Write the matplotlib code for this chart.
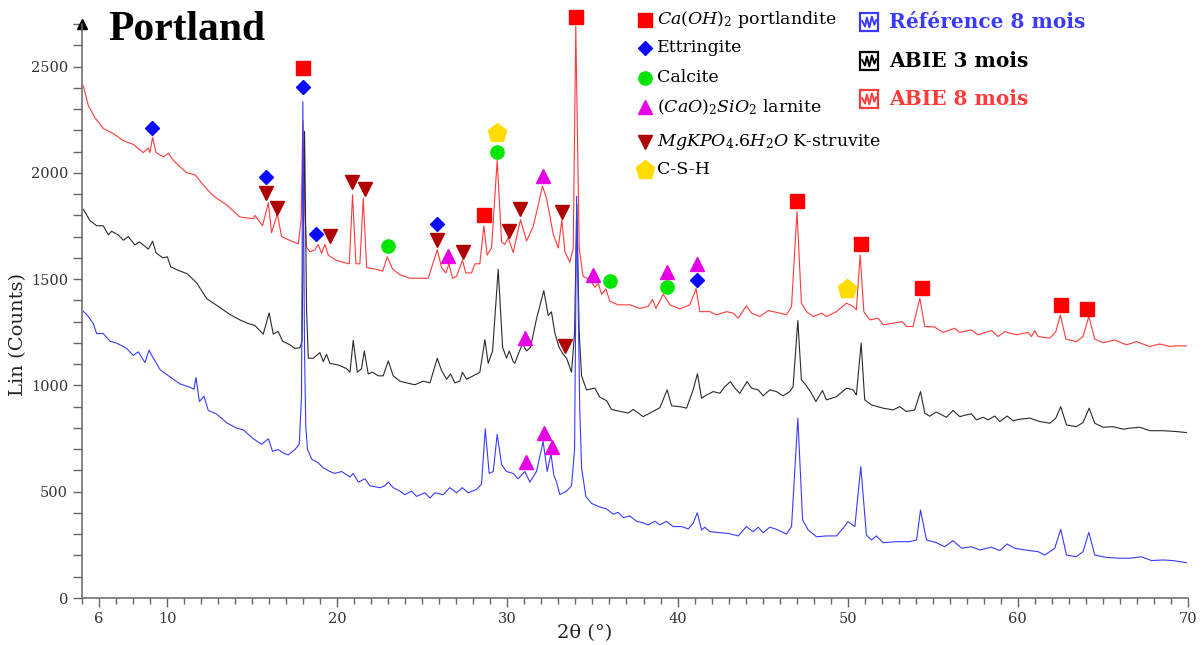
import numpy as np
import matplotlib
matplotlib.use('Agg')
import matplotlib.pyplot as plt
from matplotlib.lines import Line2D
from matplotlib.patches import Rectangle

# ---- data (2theta in deg, Lin counts) ----
red_x = [5.08, 5.37, 5.76, 6.25, 6.84, 7.43, 8.01, 8.6, 8.9, 8.99, 9.15, 9.35, 9.78, 10.08, 10.37,
         11.15, 11.64, 12.13, 12.71, 13.5, 14.28, 15.07, 15.16, 15.61, 15.95, 16.14, 16.48, 16.73,
         17.42, 17.71, 17.88, 17.98, 18.1, 18.2, 18.4, 18.69, 18.88, 19.08, 19.28, 19.47, 19.96,
         20.35, 20.71, 20.9, 21.1, 21.33, 21.53, 21.73, 22.31, 22.67, 22.94, 23.26, 23.68, 24.27,
         24.86, 25.35, 25.64, 25.88, 26.13, 26.39, 26.56, 26.78, 27.01, 27.36, 27.56, 27.89, 28.09,
         28.38, 28.62, 28.81, 29.07, 29.4, 29.66, 29.85, 30.05, 30.34, 30.77, 31.13, 31.51, 31.81,
         32.06, 32.3, 32.5, 32.69, 32.99, 33.2, 33.38, 33.67, 33.87, 34.02, 34.22, 34.45, 34.85,
         35.14, 35.34, 35.54, 35.79, 36.02, 36.51, 37.2, 37.78, 38.27, 38.53, 38.73, 39.16, 39.55,
         40.14, 40.72, 41.09, 41.31, 41.9, 42.29, 42.88, 43.27, 43.56, 44.05, 44.35, 44.84, 45.33,
         46.01, 46.4, 46.7, 47.02, 47.28, 47.58, 47.97, 48.46, 48.75, 49.34, 49.93, 50.32, 50.51,
         50.73, 50.95, 51.3, 51.79, 52.08, 52.67, 53.22, 53.45, 53.84, 54.24, 54.53, 55.1, 55.6,
         56.29, 56.59, 57.27, 57.66, 58.45, 58.84, 59.23, 59.92, 60.6, 60.8, 61.0, 61.19, 61.88,
         62.23, 62.5, 62.82, 63.44, 63.83, 64.17, 64.52, 65.01, 65.69, 66.38, 66.97, 67.75, 68.34,
         68.93, 69.32, 69.91]
red_y = [2409, 2317, 2259, 2209, 2184, 2151, 2134, 2095, 2117, 2095, 2167, 2095, 2075, 2092, 2058,
         2000, 1991, 1942, 1892, 1849, 1792, 1784, 1800, 1751, 1859, 1718, 1808, 1700,
         1675, 1666, 1780, 2245, 1800, 1650, 1629, 1638, 1663, 1621, 1663, 1613, 1588,
         1579, 1572, 1897, 1572, 1572, 1880, 1554, 1546, 1537, 1605, 1546, 1521, 1504,
         1504, 1504, 1579, 1638, 1554, 1529, 1572, 1504, 1513, 1588, 1529, 1529, 1572,
         1572, 1751, 1613, 1647, 2058, 1676, 1663, 1696, 1625, 1779, 1680, 1746, 1846,
         1938, 1880, 1796, 1713, 1646, 1779, 1629, 1579, 1646, 2689, 1646, 1513, 1496,
         1462, 1479, 1429, 1454, 1396, 1379, 1379, 1362, 1371, 1404, 1362, 1429, 1379,
         1360, 1379, 1455, 1347, 1347, 1332, 1347, 1340, 1316, 1374, 1340, 1324, 1352,
         1340, 1332, 1371, 1818, 1387, 1347, 1324, 1340, 1324, 1347, 1387, 1371, 1355,
         1614, 1347, 1308, 1316, 1285, 1293, 1300, 1277, 1277, 1410, 1277, 1275, 1249,
         1269, 1249, 1261, 1238, 1258, 1230, 1253, 1238, 1249, 1230, 1258, 1230, 1222,
         1253, 1332, 1218, 1206, 1230, 1324, 1218, 1201, 1214, 1191, 1206, 1183, 1195,
         1183, 1186, 1186]

black_x = [5.08, 5.47, 5.86, 6.25, 6.55, 6.74, 7.13, 7.43, 7.72, 8.11, 8.37, 8.9, 9.15, 9.35, 9.74,
           10.02, 10.21, 10.66, 11.19, 11.74, 12.33, 13.11, 13.7, 14.28, 14.77, 15.16, 15.65, 16.0,
           16.24, 16.53, 16.79, 17.22, 17.51, 17.81, 17.93, 18.08, 18.2, 18.3, 18.59, 18.98, 19.18,
           19.37, 19.57, 20.06, 20.55, 20.75, 20.94, 21.18, 21.43, 21.59, 21.82, 22.08, 22.41, 22.7,
           23.0, 23.29, 23.68, 24.07, 24.56, 25.05, 25.45, 25.88, 26.13, 26.43, 26.66, 26.91, 27.2,
           27.36, 27.6, 27.99, 28.38, 28.68, 28.87, 29.13, 29.46, 29.72, 29.95, 30.11, 30.34, 30.44,
           30.63, 30.89, 31.13, 31.36, 31.71, 32.14, 32.4, 32.59, 32.79, 33.04, 33.28, 33.48, 33.77,
           33.95, 34.08, 34.22, 34.36, 34.65, 35.14, 35.43, 35.83, 36.12, 36.61, 37.1, 37.4, 37.98,
           38.57, 38.96, 39.39, 39.65, 40.14, 40.53, 40.92, 41.17, 41.41, 41.71, 42.1, 42.49, 42.78,
           43.11, 43.37, 43.66, 44.09, 44.35, 44.74, 45.03, 45.42, 45.81, 46.2, 46.6, 46.79, 47.07,
           47.28, 47.54, 47.87, 48.13, 48.52, 48.75, 49.34, 49.93, 50.32, 50.51, 50.79, 51.0, 51.4,
           52.08, 52.67, 53.06, 53.45, 53.94, 54.28, 54.53, 54.82, 55.2, 55.8, 56.19, 56.59, 56.94,
           57.27, 57.57, 57.96, 58.25, 58.64, 58.94, 59.37, 59.72, 60.11, 60.7, 61.29, 61.88, 62.23,
           62.52, 62.86, 63.44, 63.83, 64.19, 64.52, 65.01, 65.6, 66.19, 66.58, 67.17, 67.75, 68.53,
           69.32, 69.91]
black_y = [1828, 1775, 1751, 1751, 1708, 1725, 1708, 1683, 1700, 1661, 1675, 1641, 1678, 1624, 1600,
           1605, 1558, 1541, 1525, 1482, 1408, 1366, 1333, 1308, 1291, 1282, 1241, 1341,
           1241, 1254, 1208, 1191, 1174, 1177, 1208, 2195, 1350, 1128, 1128, 1154, 1112,
           1146, 1104, 1096, 1079, 1062, 1212, 1062, 1079, 1162, 1054, 1062, 1045, 1045,
           1115, 1045, 1020, 1012, 1003, 1020, 1012, 1128, 1070, 1029, 1054, 1012, 1020,
           1062, 1029, 1045, 1062, 1215, 1104, 1162, 1546, 1179, 1128, 1162, 1112, 1104,
           1146, 1195, 1162, 1179, 1313, 1446, 1329, 1346, 1246, 1179, 1146, 1128, 1062,
           1250, 1850, 1250, 1045, 979, 987, 945, 928, 887, 878, 870, 887, 853,
           878, 895, 979, 904, 900, 893, 980, 1055, 940, 955, 971, 963, 994,
           1018, 987, 963, 1018, 987, 979, 951, 979, 971, 951, 971, 994, 1305,
           1026, 1002, 963, 924, 976, 932, 947, 987, 979, 955, 1199, 932, 908,
           893, 885, 900, 877, 885, 971, 869, 855, 875, 850, 882, 853, 861,
           866, 838, 850, 838, 856, 830, 856, 834, 841, 846, 830, 822, 846,
           900, 814, 806, 825, 893, 822, 803, 806, 794, 799, 803, 787, 787,
           783, 778]

blue_x = [5.08, 5.37, 5.66, 5.86, 6.25, 6.64, 7.04, 7.62, 8.01, 8.31, 8.7, 8.94, 9.1, 9.29, 9.59,
          10.17, 10.76, 11.35, 11.58, 11.7, 11.9, 12.17, 12.42, 12.92, 13.5, 14.09, 14.48, 15.07,
          15.56, 15.95, 16.2, 16.53, 16.83, 17.12, 17.51, 17.77, 17.9, 17.98, 18.08, 18.15, 18.25,
          18.5, 18.88, 19.18, 19.57, 19.86, 20.26, 20.75, 20.94, 21.24, 21.63, 21.92, 22.51, 22.8,
          23.0, 23.29, 23.68, 23.98, 24.37, 24.66, 25.15, 25.45, 25.74, 26.23, 26.62, 27.01, 27.36,
          27.69, 28.19, 28.48, 28.7, 28.93, 29.17, 29.4, 29.66, 29.95, 30.34, 30.63, 31.03, 31.32,
          31.71, 32.1, 32.34, 32.56, 32.73, 32.89, 33.08, 33.48, 33.77, 33.95, 34.07, 34.25, 34.36,
          34.61, 34.95, 35.43, 35.83, 36.22, 36.51, 36.81, 37.2, 37.59, 37.98, 38.27, 38.67, 38.96,
          39.35, 39.74, 40.24, 40.63, 40.92, 41.16, 41.41, 41.6, 41.9, 42.49, 42.98, 43.56, 44.05,
          44.44, 44.74, 45.03, 45.42, 45.81, 46.4, 46.7, 47.07, 47.35, 47.68, 48.17, 48.75, 49.34,
          49.73, 50.02, 50.42, 50.77, 51.1, 51.4, 51.69, 52.08, 52.87, 53.65, 54.05, 54.28, 54.63,
          55.22, 55.7, 56.19, 56.69, 57.27, 57.76, 58.45, 58.94, 59.37, 59.82, 60.41, 61.19, 61.58,
          62.17, 62.52, 62.86, 63.44, 63.83, 64.17, 64.52, 65.21, 65.99, 66.58, 67.27, 67.86, 68.53,
          69.12, 69.91]
blue_y = [1349, 1324, 1291, 1244, 1244, 1208, 1199, 1174, 1141, 1158, 1107, 1166, 1141, 1115, 1074,
          1040, 1007, 991, 982, 1037, 924, 949, 882, 865, 824, 799, 791, 749,
          723, 749, 690, 698, 682, 673, 698, 723, 950, 2335, 1150, 812, 700,
          653, 636, 612, 595, 586, 595, 569, 586, 545, 561, 528, 519, 528,
          545, 519, 503, 486, 503, 478, 495, 470, 495, 486, 519, 495, 519,
          495, 511, 536, 795, 586, 595, 770, 628, 595, 586, 561, 595, 545,
          595, 736, 595, 678, 578, 545, 486, 503, 528, 700, 1890, 900, 612,
          478, 445, 428, 419, 394, 403, 378, 386, 361, 353, 344, 361, 344,
          361, 336, 336, 325, 352, 401, 320, 333, 312, 307, 304, 292, 336,
          312, 333, 307, 333, 323, 301, 336, 846, 367, 320, 288, 292, 292,
          328, 359, 336, 618, 296, 273, 292, 260, 265, 265, 273, 414, 273,
          260, 241, 270, 234, 241, 226, 239, 223, 254, 234, 226, 218, 202,
          234, 323, 202, 194, 218, 309, 202, 191, 187, 187, 194, 176, 179,
          176, 166]

# phase markers (2theta, counts)
portlandite_x = [17.98, 28.62, 34.02, 47.01, 50.77, 54.35, 62.52, 64.05]
portlandite_y = [2494, 1802, 2734, 1868, 1666, 1459, 1379, 1360]
ettringite_x = [9.11, 15.81, 17.98, 18.75, 25.86, 41.13]
ettringite_y = [2212, 1981, 2405, 1713, 1760, 1496]
calcite_x = [22.98, 29.38, 36.02, 39.37]
calcite_y = [1656, 2099, 1492, 1464]
larnite_x = [26.5, 32.09, 35.02, 39.37, 41.13, 31.03, 31.09, 32.14, 32.6]
larnite_y = [1610, 1986, 1520, 1534, 1572, 1224, 640, 777, 711]
struvite_x = [15.81, 16.46, 19.57, 20.86, 21.63, 25.86, 27.39, 30.09, 30.73, 33.2, 33.38]
struvite_y = [1906, 1835, 1704, 1958, 1925, 1685, 1628, 1727, 1831, 1817, 1186]
csh_x = [29.38, 49.95]
csh_y = [2188, 1454]

phase_labels = [r'$Ca(OH)_2$ portlandite', 'Ettringite', 'Calcite',
                r'$(CaO)_2SiO_2$ larnite', r'$MgKPO_4.6H_2O$ K-struvite', 'C-S-H']
sample_labels = ['Référence 8 mois', 'ABIE 3 mois', 'ABIE 8 mois']

plt.rcParams['font.family'] = 'DejaVu Serif'
plt.rcParams['mathtext.fontset'] = 'dejavuserif'

W, H = 1202, 645
fig = plt.figure(figsize=(W / 100, H / 100), dpi=100)
ax = fig.add_axes([82 / W, 1 - 598 / H, 1106 / W, 574 / H])

c_red, c_black, c_blue = '#ff3a3a', '#2a2a2a', '#3a3aff'
ax.plot(red_x, red_y, color=c_red, lw=0.8)
ax.plot(black_x, black_y, color=c_black, lw=0.8)
ax.plot(blue_x, blue_y, color=c_blue, lw=0.8)

styles = [
    (portlandite_x, portlandite_y, 's', '#ff0000', 10),
    (ettringite_x, ettringite_y, 'D', '#0a0aff', 7.5),
    (calcite_x, calcite_y, 'o', '#00e600', 9.5),
    (larnite_x, larnite_y, '^', '#e600e6', 10),
    (struvite_x, struvite_y, 'v', '#b00000', 10),
    (csh_x, csh_y, 'p', '#ffdc00', 14),
]
for xs, ys, m, c, ms in styles:
    ax.plot(xs, ys, ls='none', marker=m, color=c, ms=ms, mec=c, clip_on=False, zorder=5)

ax.set_xlim(5, 70)
ax.set_ylim(0, 2700)
ax.set_xticks([6, 10, 20, 30, 40, 50, 60, 70])
ax.set_xticks(np.arange(5, 71, 1), minor=True)
ax.set_yticks([0, 500, 1000, 1500, 2000, 2500])
ax.set_yticks(np.arange(0, 2701, 100), minor=True)
for s in ['top', 'right']:
    ax.spines[s].set_visible(False)
for s in ['left', 'bottom']:
    ax.spines[s].set_color('#666666')
    ax.spines[s].set_linewidth(1.1)
ax.tick_params(axis='both', which='both', direction='out', color='#666666', labelcolor='#333333',
               labelsize=10.5)
ax.tick_params(axis='y', which='both', length=6.5, width=1)
ax.tick_params(axis='x', which='major', length=6.5, width=1)
ax.tick_params(axis='x', which='minor', length=4, width=1)
ax.plot([0], [1], marker='^', color='black', ms=7, transform=ax.transAxes, clip_on=False)

fig.text(585 / W, 1 - 633 / H, '2θ (°)', ha='center', va='center', fontsize=14, color='#222222')
fig.text(18 / W, 1 - 334 / H, 'Lin (Counts)', ha='center', va='center', rotation=90,
         fontsize=14, color='#222222')
fig.text(108 / W, 1 - 30 / H, 'Portland', ha='left', va='center', fontsize=30,
         fontweight='bold', family='Liberation Serif')

# phase legend
rows = [20, 48, 78, 107, 142, 170]
for (xs, ys, m, c, ms), lab, r in zip(styles, phase_labels, rows):
    fig.add_artist(Line2D([645 / W], [1 - r / H], marker=m, color=c, mec=c, ms=ms,
                          transform=fig.transFigure))
    fig.text(657 / W, 1 - r / H, lab, ha='left', va='center', fontsize=12.5)

# sample legend
zig = [(0.12, 0.55), (0.28, 0.25), (0.38, 0.75), (0.52, 0.2), (0.66, 0.8), (0.8, 0.35), (0.9, 0.6)]
for lab, c, r in zip(sample_labels, [c_blue, 'black', c_red], [22, 61, 99]):
    x0, y0, s = 860, r - 9, 18
    fig.add_artist(Rectangle((x0 / W, 1 - (y0 + s) / H), s / W, s / H, fill=False, ec=c, lw=1.6,
                             transform=fig.transFigure))
    fig.add_artist(Line2D([(x0 + zx * s) / W for zx, zy in zig],
                          [1 - (y0 + (1 - zy) * s) / H for zx, zy in zig],
                          color=c, lw=1.4, transform=fig.transFigure))
    fig.text(889 / W, 1 - r / H, lab, ha='left', va='center', fontsize=14.5,
             fontweight='bold', color=c)

fig.savefig('out.png', dpi=100)
